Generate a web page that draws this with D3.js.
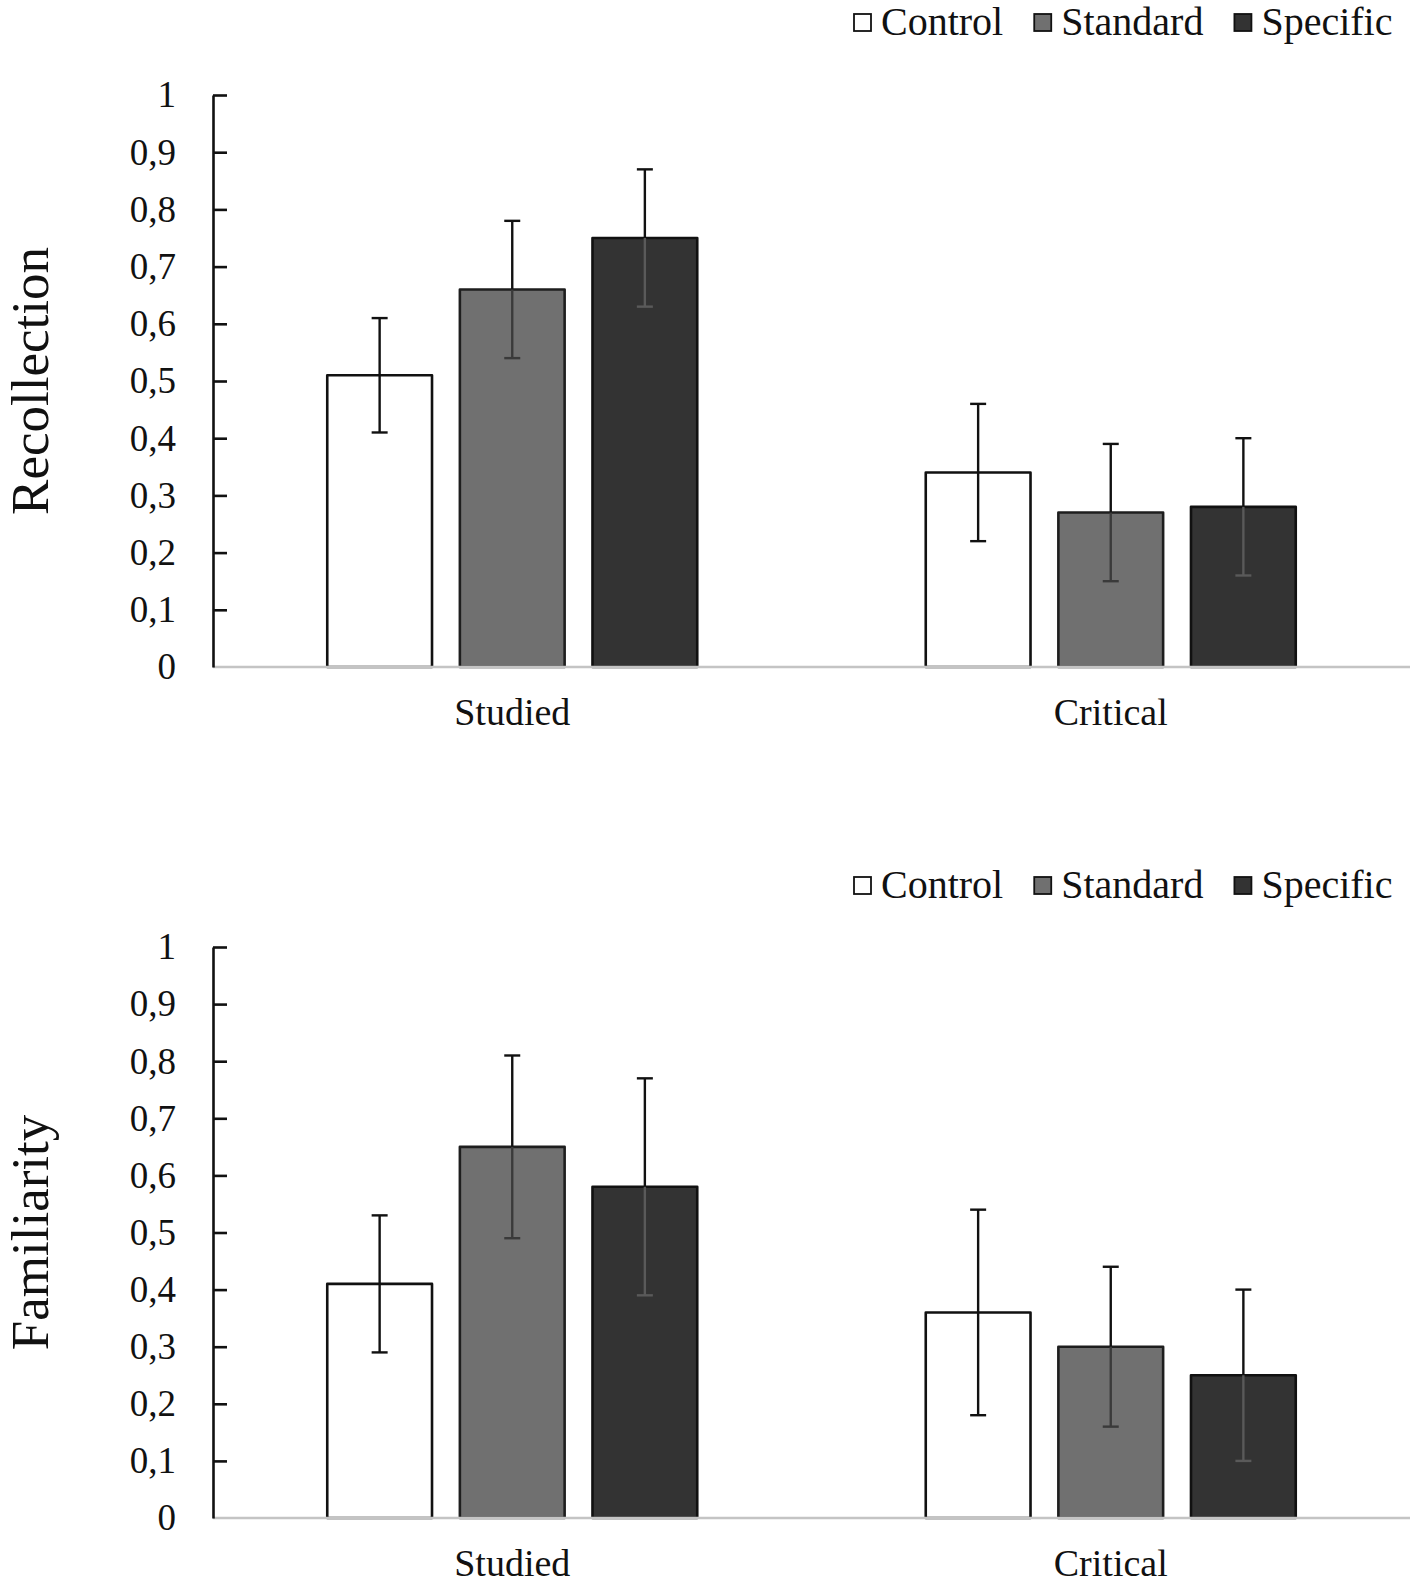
<!DOCTYPE html>
<html>
<head>
    <title>Recollection and Familiarity</title>
    <script src="https://d3js.org/d3.v7.min.js"></script>
    <style>
        body { margin: 0; background: #fff; }
        text { font-family: "Liberation Serif", "Times New Roman", serif; fill: #111; }
    </style>
</head>
<body>
    <div id="chart"></div>

    <script>
        // categories and series
        var groups = ["Studied", "Critical"];
        var series = ["Control", "Standard", "Specific"];
        var yTicks = [0, 0.1, 0.2, 0.3, 0.4, 0.5, 0.6, 0.7, 0.8, 0.9, 1];

        // Recollection: means and error (+/-) per group, in series order
        var recollectionStudied = [0.51, 0.66, 0.75];
        var recollectionCritical = [0.34, 0.27, 0.28];
        var recollectionStudiedErr = [0.10, 0.12, 0.12];
        var recollectionCriticalErr = [0.12, 0.12, 0.12];

        // Familiarity
        var familiarityStudied = [0.41, 0.65, 0.58];
        var familiarityCritical = [0.36, 0.30, 0.25];
        var familiarityStudiedErr = [0.12, 0.16, 0.19];
        var familiarityCriticalErr = [0.18, 0.14, 0.15];

        var width = 1417, height = 1585;
        var left = 213, right = 1410;

        var fill = { Control: "#ffffff", Standard: "#707070", Specific: "#333333" };
        var edge = { Control: "#111111", Standard: "#1e1e1e", Specific: "#111111" };
        var innerErr = { Control: "#111111", Standard: "#3a3a3a", Specific: "#5a5a5a" };

        var commaLocale = d3.formatLocale({ decimal: ",", thousands: ".", grouping: [3], currency: ["", ""] });
        var fmt = commaLocale.format(".1~f");

        var svg = d3.select("#chart")
            .append("svg")
            .attr("width", width)
            .attr("height", height);

        svg.append("rect").attr("width", width).attr("height", height).attr("fill", "#fff");

        var x0 = d3.scaleBand().domain(groups).range([left, right]).padding(0);
        var x1 = d3.scaleBand().domain(series).range([-185, 185]).paddingInner(0.21).paddingOuter(0);

        function drawPanel(title, means, errs, yTop, yBottom, legendY) {
            var y = d3.scaleLinear().domain([0, 1]).range([yBottom, yTop]);
            var g = svg.append("g");

            // flatten into rows
            var rows = [];
            groups.forEach(function(grp, gi) {
                series.forEach(function(s, si) {
                    rows.push({ group: grp, series: s, value: means[gi][si], err: errs[gi][si] });
                });
            });

            function cx(d) { return x0(d.group) + x0.bandwidth() / 2 + x1(d.series) + x1.bandwidth() / 2; }

            // bars
            g.selectAll(".bar")
                .data(rows)
                .enter().append("rect")
                .attr("class", "bar")
                .attr("x", function(d) { return x0(d.group) + x0.bandwidth() / 2 + x1(d.series); })
                .attr("y", function(d) { return y(d.value); })
                .attr("width", x1.bandwidth())
                .attr("height", function(d) { return y(0) - y(d.value); })
                .attr("fill", function(d) { return fill[d.series]; })
                .attr("stroke", function(d) { return edge[d.series]; })
                .attr("stroke-width", 2.6)
                .attr("stroke-linejoin", "round");

            // baseline
            g.append("line")
                .attr("x1", left).attr("x2", right)
                .attr("y1", y(0)).attr("y2", y(0))
                .attr("stroke", "#c4c4c4")
                .attr("stroke-width", 2.5);

            // error bars: part above the bar top, then part inside the bar
            var cap = 8;
            var eb = g.selectAll(".err").data(rows).enter().append("g").attr("class", "err");
            eb.append("line")
                .attr("x1", cx).attr("x2", cx)
                .attr("y1", function(d) { return y(d.value + d.err); })
                .attr("y2", function(d) { return y(d.value); })
                .attr("stroke", "#111").attr("stroke-width", 2.4);
            eb.append("line")
                .attr("x1", function(d) { return cx(d) - cap; }).attr("x2", function(d) { return cx(d) + cap; })
                .attr("y1", function(d) { return y(d.value + d.err); })
                .attr("y2", function(d) { return y(d.value + d.err); })
                .attr("stroke", "#111").attr("stroke-width", 2.4);
            eb.append("line")
                .attr("x1", cx).attr("x2", cx)
                .attr("y1", function(d) { return y(d.value); })
                .attr("y2", function(d) { return y(d.value - d.err); })
                .attr("stroke", function(d) { return innerErr[d.series]; }).attr("stroke-width", 2.4);
            eb.append("line")
                .attr("x1", function(d) { return cx(d) - cap; }).attr("x2", function(d) { return cx(d) + cap; })
                .attr("y1", function(d) { return y(d.value - d.err); })
                .attr("y2", function(d) { return y(d.value - d.err); })
                .attr("stroke", function(d) { return innerErr[d.series]; }).attr("stroke-width", 2.4);

            // y axis, ticks pointing into the plot
            var axis = g.append("g")
                .attr("transform", "translate(" + left + ",0)")
                .call(d3.axisLeft(y).tickValues(yTicks).tickFormat(fmt).tickSizeInner(-14).tickSizeOuter(0).tickPadding(37));
            axis.select(".domain").attr("stroke", "#111").attr("stroke-width", 2.6);
            axis.selectAll(".tick line").attr("stroke", "#111").attr("stroke-width", 2.6)
                .filter(function(d) { return d === 0; }).remove();
            axis.selectAll(".tick text")
                .style("font-family", '"Liberation Serif", serif')
                .style("font-size", "37px")
                .attr("fill", "#111");

            // category labels
            g.selectAll(".cat")
                .data(groups)
                .enter().append("text")
                .attr("class", "cat")
                .attr("x", function(d) { return x0(d) + x0.bandwidth() / 2; })
                .attr("y", y(0) + 58)
                .attr("text-anchor", "middle")
                .style("font-size", "38px")
                .text(function(d) { return d; });

            // axis title
            g.append("text")
                .attr("transform", "translate(48," + (yTop + yBottom) / 2 + ") rotate(-90)")
                .attr("text-anchor", "middle")
                .style("font-size", "53px")
                .text(title);

            // legend
            var lx = 854;
            series.forEach(function(s) {
                g.append("rect")
                    .attr("x", lx).attr("y", legendY - 8)
                    .attr("width", 17).attr("height", 17)
                    .attr("fill", fill[s])
                    .attr("stroke", "#111")
                    .attr("stroke-width", 1.8);
                var t = g.append("text")
                    .attr("x", lx + 27)
                    .attr("y", legendY + 13)
                    .style("font-size", "40px")
                    .text(s);
                lx = lx + 27 + t.node().getComputedTextLength() + 31;
            });
        }

        drawPanel("Recollection",
            [recollectionStudied, recollectionCritical],
            [recollectionStudiedErr, recollectionCriticalErr],
            95, 667, 22);

        drawPanel("Familiarity",
            [familiarityStudied, familiarityCritical],
            [familiarityStudiedErr, familiarityCriticalErr],
            947, 1518, 885);
    </script>
</body>
</html>
